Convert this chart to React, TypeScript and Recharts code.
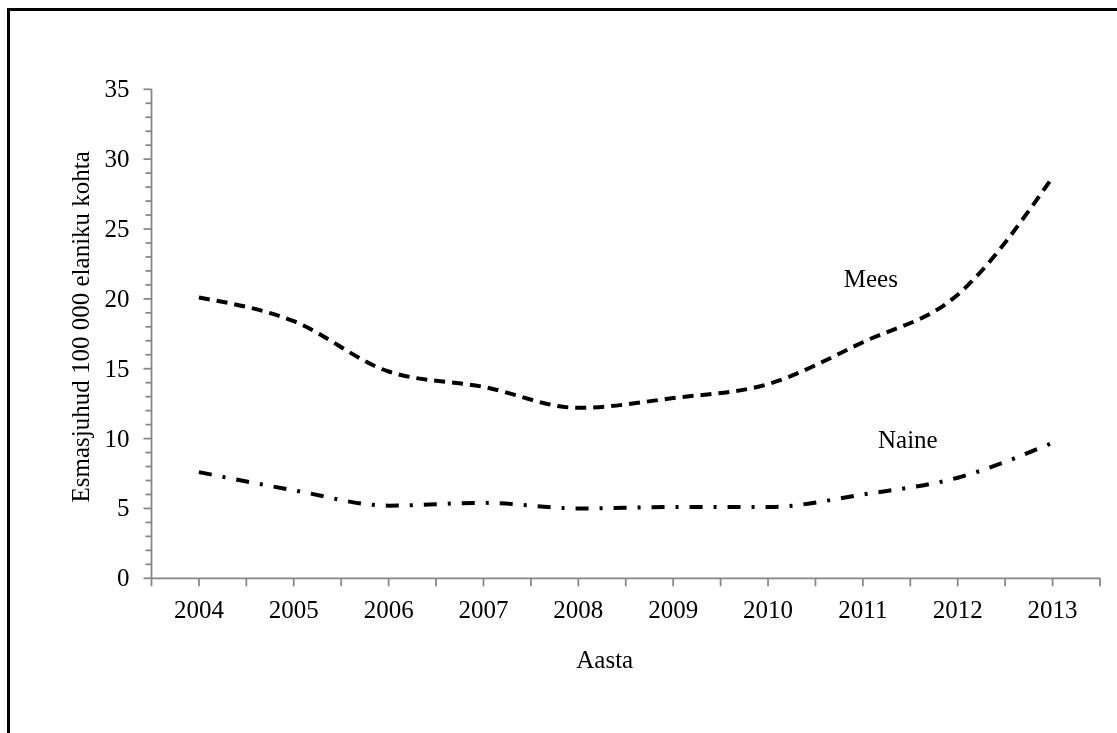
import React from 'react';
import { LineChart, Line, XAxis, YAxis, ReferenceDot, Label } from 'recharts';

const years = ['2004', '2005', '2006', '2007', '2008', '2009', '2010', '2011', '2012', '2013'];
const mees = [20.1, 18.4, 14.8, 13.7, 12.2, 12.9, 13.9, 16.9, 20.3, 28.7];
const naine = [7.6, 6.3, 5.2, 5.4, 5.0, 5.1, 5.1, 6.0, 7.2, 9.7];
const yTicks = Array.from({ length: 36 }, (_, i) => i);

const data = years.map((year, i) => ({ year, mees: mees[i], naine: naine[i] }));

const font = '"Times New Roman", "Liberation Serif", Tinos, serif';
const fontSize = 25;
const axisColor = '#868686';
const textStyle = { fontFamily: font, fontSize, fill: '#000' };

// chart geometry
const W = 1100;
const H = 715;
const yAxisWidth = 143.5;
const marginTop = 81.3;
const marginRight = 8;
const xAxisHeight = 100;
const marginBottom = H - 570.3 - xAxisHeight;
const plotLeft = yAxisWidth;
const plotRight = W - marginRight;
const plotTop = marginTop;
const plotBottom = H - marginBottom - xAxisHeight;
const band = (plotRight - plotLeft) / years.length;

const YTick = (props: any) => {
  const { x, y, payload } = props;
  const major = payload.value % 5 === 0;
  return (
    <g>
      <line x1={x - (major ? 8 : 6)} x2={x} y1={y} y2={y} stroke={axisColor} strokeWidth={1.75} />
      {major && (
        <text x={x - 22} y={y} dy={8} textAnchor="end" style={textStyle}>
          {payload.value}
        </text>
      )}
    </g>
  );
};

const XTick = (props: any) => {
  const { x, y, payload } = props;
  const last = payload.value === years[years.length - 1];
  const marks = [x - band / 2, x];
  if (last) marks.push(x + band / 2);
  return (
    <g>
      {marks.map((mx, i) => (
        <line key={i} x1={mx} x2={mx} y1={y} y2={y + 8} stroke={axisColor} strokeWidth={1.75} />
      ))}
      <text x={x} y={y + 40} textAnchor="middle" style={textStyle}>
        {payload.value}
      </text>
    </g>
  );
};

const SeriesLabel = (props: any) => {
  const { viewBox, text, dx } = props;
  return (
    <text x={viewBox.x + dx} y={viewBox.y} textAnchor="middle" style={textStyle}>
      {text}
    </text>
  );
};

const App = () => {
  return (
    <div style={{ position: 'relative', width: W, height: H, fontFamily: font }}>
      {/* outer frame, cut by the window on the right and bottom */}
      <div
        style={{
          position: 'fixed',
          left: 7,
          top: 8,
          width: 1200,
          height: 800,
          borderLeft: '3px solid #000',
          borderTop: '3px solid #000',
          boxSizing: 'border-box',
          pointerEvents: 'none',
        }}
      />
      <div style={{ position: 'absolute', left: 0, top: 0 }}>
        <LineChart
          width={W}
          height={H}
          data={data}
          margin={{ top: marginTop, right: marginRight, bottom: marginBottom, left: 0 }}
        >
          <XAxis
            dataKey="year"
            height={xAxisHeight}
            padding={{ left: band / 2, right: band / 2 }}
            axisLine={{ stroke: axisColor, strokeWidth: 1.75 }}
            tickLine={false}
            tickSize={0}
            tickMargin={0}
            interval={0}
            tick={<XTick />}
          >
            <Label
              content={() => (
                <text
                  x={(plotLeft + plotRight) / 2 - 21}
                  y={plotBottom + 90}
                  textAnchor="middle"
                  style={textStyle}
                >
                  Aasta
                </text>
              )}
            />
          </XAxis>
          <YAxis
            width={yAxisWidth}
            domain={[0, 35]}
            ticks={yTicks}
            interval={0}
            axisLine={{ stroke: axisColor, strokeWidth: 1.75 }}
            tickLine={false}
            tickSize={0}
            tickMargin={0}
            tick={<YTick />}
          >
            <Label
              content={() => {
                const cx = 81;
                const cy = (plotTop + plotBottom) / 2 - 7;
                return (
                  <text
                    x={cx}
                    y={cy}
                    transform={`rotate(-90 ${cx} ${cy})`}
                    textAnchor="middle"
                    style={textStyle}
                  >
                    Esmasjuhud 100 000 elaniku kohta
                  </text>
                );
              }}
            />
          </YAxis>
          <Line
            type="monotone"
            dataKey="mees"
            stroke="#000"
            strokeWidth={4}
            strokeDasharray="11 7"
            dot={false}
            activeDot={false}
            isAnimationActive={false}
          />
          <Line
            type="monotone"
            dataKey="naine"
            stroke="#000"
            strokeWidth={4}
            strokeDasharray="13 11 3 11"
            dot={false}
            activeDot={false}
            isAnimationActive={false}
          />
          <ReferenceDot x="2011" y={20.85} r={0} fill="none" stroke="none" label={<SeriesLabel text="Mees" dx={8} />} />
          <ReferenceDot x="2011" y={9.33} r={0} fill="none" stroke="none" label={<SeriesLabel text="Naine" dx={45} />} />
        </LineChart>
      </div>
    </div>
  );
};

export default App;
